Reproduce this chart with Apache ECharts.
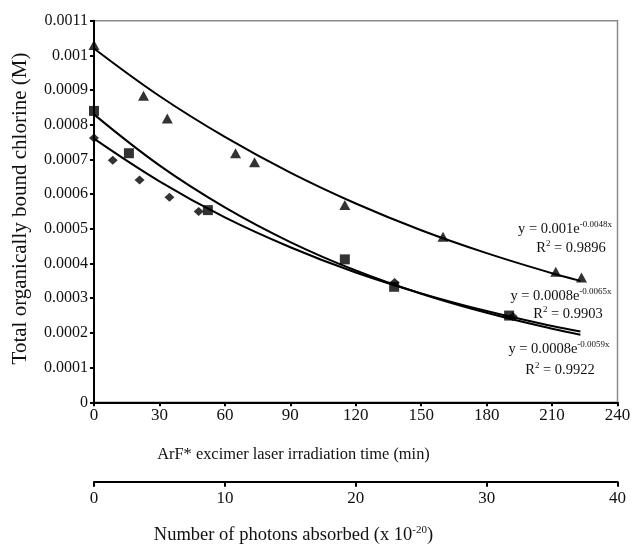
<!DOCTYPE html>
<html>
<head>
<meta charset="utf-8">
<script src="https://cdn.jsdelivr.net/npm/echarts@6/dist/echarts.min.js"></script>
<style>html,body{margin:0;padding:0;background:#fff}#c{width:635px;height:547px}</style>
</head>
<body>
<div id="c"></div>
<script>
// ---- data ----
const triX = [0, 22.7, 33.6, 64.9, 73.6, 115, 160, 211.7, 223.5];
const triY = [0.00103, 0.000884, 0.000818, 0.000718, 0.000692, 0.000569, 0.000477, 0.000376, 0.00036];
const sqX = [0, 16, 52.2, 115, 137.6, 190.3];
const sqY = [0.00084, 0.000718, 0.000554, 0.000412, 0.000333, 0.00025];
const diaX = [0, 8.6, 20.9, 34.6, 48, 137.8, 192];
const diaY = [0.000762, 0.000698, 0.000641, 0.000591, 0.00055, 0.000345, 0.000247];
// trend curves
const fitX = [0, 30, 60, 90, 120, 150, 180, 210, 223];
const fitTri = [0.00102, 0.000883, 0.000765, 0.000662, 0.000573, 0.000496, 0.00043, 0.000372, 0.00035];
const fitSq = [0.00083, 0.000683, 0.000562, 0.000462, 0.00038, 0.000313, 0.000258, 0.000212, 0.000195];
const fitDia = [0.00076, 0.000637, 0.000533, 0.000447, 0.000374, 0.000314, 0.000263, 0.00022, 0.000204];
const yTicks = ['0', '0.0001', '0.0002', '0.0003', '0.0004', '0.0005', '0.0006', '0.0007', '0.0008', '0.0009', '0.001', '0.0011'];
const timeTitle = 'ArF* excimer laser irradiation time (min)';
const photonTitle = 'Number of photons absorbed (x 10';
const yTitle = 'Total organically bound chlorine (M)';
const eqs = [
  {a: '0.001', k: '-0.0048x', r: '0.9896'},
  {a: '0.0008', k: '-0.0065x', r: '0.9903'},
  {a: '0.0008', k: '-0.0059x', r: '0.9922'}
];

const zip = (xs, ys) => xs.map((x, i) => [x, ys[i]]);
const F = '"Liberation Serif", "Times New Roman", serif';
const chart = echarts.init(document.getElementById('c'), null, {renderer: 'canvas'});

const lineSeries = (d) => ({type: 'line', data: zip(fitX, d), smooth: 0.4, symbol: 'none',
  lineStyle: {color: '#000', width: 2}, z: 2, silent: true});
const scat = (xs, ys, sym, size) => ({type: 'scatter', data: zip(xs, ys), symbol: sym, symbolSize: size,
  itemStyle: {color: '#000'}, z: 3});

const eqGraphic = [];
const eqPos = [[565, 229, 571, 248], [561, 296, 568, 314], [559, 349, 560, 370]];
const EQ = 14.5;
eqs.forEach((e, i) => {
  const p = eqPos[i];
  eqGraphic.push({type: 'text', x: p[0], y: p[1], style: {
    text: '{m|y = ' + e.a + 'e}{s|' + e.k + '}', align: 'center', verticalAlign: 'middle',
    rich: {m: {fontFamily: F, fontSize: EQ, fill: '#111'}, s: {fontFamily: F, fontSize: 9, fill: '#111', padding: [0,0,9,0]}}
  }});
  eqGraphic.push({type: 'text', x: p[2], y: p[3], style: {
    text: '{m|R}{s|2}{m| = ' + e.r + '}', align: 'center', verticalAlign: 'middle',
    rich: {m: {fontFamily: F, fontSize: EQ, fill: '#111'}, s: {fontFamily: F, fontSize: 9, fill: '#111', padding: [0,0,9,0]}}
  }});
});

chart.setOption({
  animation: false,
  backgroundColor: '#fff',
  grid: {left: 94, right: 17.5, top: 20.7, bottom: 144.7, show: true, borderColor: '#8a8a8a', borderWidth: 1.5, backgroundColor: 'transparent'},
  xAxis: [
    {type: 'value', min: 0, max: 240, interval: 30, position: 'bottom',
      axisLine: {show: true, onZero: false, lineStyle: {color: '#000', width: 2}},
      axisTick: {show: true, length: 4, lineStyle: {color: '#000', width: 2}},
      axisLabel: {fontFamily: F, fontSize: 17, color: '#111', margin: 5},
      splitLine: {show: false}},
    {type: 'value', min: 0, max: 40, interval: 10, position: 'bottom', offset: 79.5,
      axisLine: {show: true, onZero: false, lineStyle: {color: '#000', width: 2}},
      axisTick: {show: true, length: 5, lineStyle: {color: '#000', width: 2}},
      axisLabel: {fontFamily: F, fontSize: 17, color: '#111', margin: 8},
      splitLine: {show: false}}
  ],
  yAxis: {type: 'value', min: 0, max: 0.0011, interval: 0.0001,
    axisLine: {show: true, onZero: false, lineStyle: {color: '#000', width: 2}},
    axisTick: {show: true, length: 4, lineStyle: {color: '#000', width: 2}},
    axisLabel: {fontFamily: F, fontSize: 16, color: '#111', margin: 6,
      formatter: (v, i) => yTicks[i]},
    splitLine: {show: false}},
  series: [
    lineSeries(fitTri), lineSeries(fitSq), lineSeries(fitDia),
    scat(triX, triY, 'triangle', [11, 10]),
    scat(sqX, sqY, 'rect', 10),
    scat(diaX, diaY, 'diamond', [10, 9])
  ],
  graphic: [
    {type: 'text', x: 293.5, y: 455, style: {text: timeTitle, fontFamily: F, fontSize: 16.4, fill: '#111', align: 'center', verticalAlign: 'middle'}},
    {type: 'text', x: 293.5, y: 535, style: {text: '{m|' + photonTitle + '}{s|-20}{m|)}', align: 'center', verticalAlign: 'middle',
      rich: {m: {fontFamily: F, fontSize: 18.5, fill: '#111'}, s: {fontFamily: F, fontSize: 11, fill: '#111', padding: [0,0,10,0]}}}},
    {type: 'text', x: 20, y: 208.5, rotation: Math.PI / 2, style: {text: yTitle, fontFamily: F, fontSize: 21, fill: '#111', align: 'center', verticalAlign: 'middle'}}
  ].concat(eqGraphic)
});
</script>
</body>
</html>
